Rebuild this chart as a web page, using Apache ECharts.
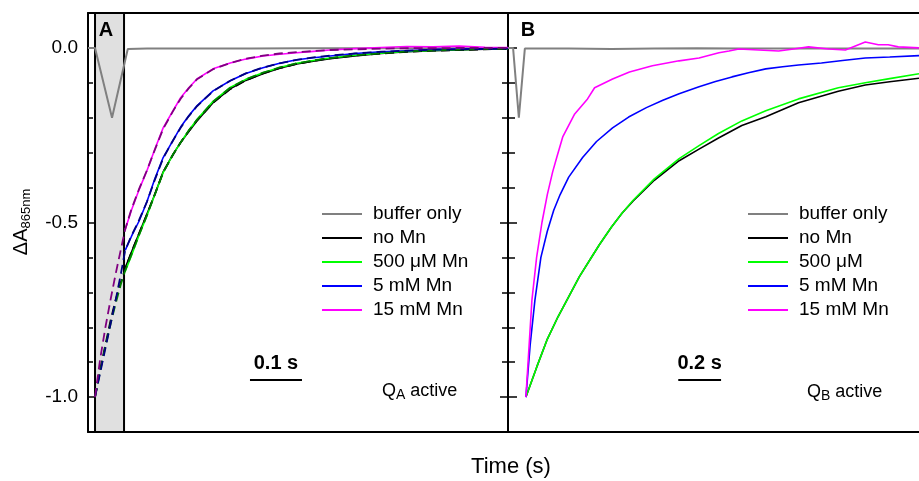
<!DOCTYPE html>
<html><head><meta charset="utf-8">
<script src="https://cdn.jsdelivr.net/npm/echarts@6/dist/echarts.min.js"></script>
<style>html,body{margin:0;padding:0;background:#fff}#c{width:919px;height:481px}</style>
</head><body><div id="c"></div>
<script>
// ---------- DATA ----------
// Panel A (Q_A active), time in s
const tA = [0.058,0.07,0.085,0.1,0.115,0.131,0.15,0.165,0.18,0.196,0.227,0.26,0.29,0.323,0.355,0.388,0.42,0.452,0.5,0.55,0.6,0.65,0.7,0.75,0.794];
const aMagenta = [-0.52,-0.465,-0.405,-0.351,-0.29,-0.229,-0.18,-0.142,-0.115,-0.089,-0.06,-0.043,-0.032,-0.023,-0.018,-0.014,-0.01,-0.006,-0.002,0.001,0.004,0.003,0.005,0.002,0.001];
const aBlue = [-0.58,-0.54,-0.495,-0.44,-0.375,-0.314,-0.265,-0.226,-0.195,-0.166,-0.123,-0.094,-0.073,-0.057,-0.044,-0.034,-0.028,-0.023,-0.016,-0.011,-0.008,-0.005,-0.003,-0.002,-0.001];
const aBlack = [-0.63,-0.585,-0.53,-0.475,-0.42,-0.355,-0.305,-0.27,-0.24,-0.209,-0.157,-0.117,-0.093,-0.074,-0.058,-0.046,-0.038,-0.031,-0.023,-0.016,-0.011,-0.008,-0.006,-0.004,-0.003];
const aGreen = [-0.64,-0.595,-0.535,-0.48,-0.42,-0.357,-0.305,-0.27,-0.237,-0.205,-0.153,-0.113,-0.09,-0.071,-0.056,-0.044,-0.036,-0.029,-0.021,-0.015,-0.01,-0.007,-0.005,-0.003,-0.002];

const tFitA = [0,0.01,0.02,0.03,0.04,0.05,0.058,0.07,0.085,0.1,0.115,0.131,0.15,0.165,0.18,0.196,0.227,0.26,0.29,0.323,0.355,0.388,0.42,0.452,0.5,0.55,0.6,0.65,0.7,0.75,0.794];
const fitMagenta = [-1,-0.89,-0.8,-0.72,-0.645,-0.575,-0.52,-0.462,-0.403,-0.35,-0.292,-0.232,-0.181,-0.145,-0.116,-0.09,-0.061,-0.043,-0.031,-0.022,-0.016,-0.012,-0.009,-0.006,-0.004,-0.002,-0.001,-0.001,0,0,0];
const fitBlue = [-1,-0.93,-0.86,-0.79,-0.72,-0.645,-0.58,-0.538,-0.492,-0.44,-0.378,-0.316,-0.265,-0.228,-0.196,-0.167,-0.124,-0.094,-0.073,-0.056,-0.044,-0.034,-0.027,-0.022,-0.016,-0.011,-0.008,-0.005,-0.004,-0.003,-0.002];
const fitBlack = [-1,-0.92,-0.85,-0.78,-0.72,-0.67,-0.632,-0.585,-0.53,-0.476,-0.419,-0.356,-0.306,-0.27,-0.239,-0.208,-0.157,-0.118,-0.093,-0.073,-0.058,-0.046,-0.037,-0.03,-0.022,-0.016,-0.011,-0.008,-0.006,-0.004,-0.003];
const fitGreen = [-1,-0.925,-0.855,-0.79,-0.73,-0.675,-0.638,-0.592,-0.535,-0.479,-0.42,-0.357,-0.305,-0.27,-0.237,-0.206,-0.154,-0.114,-0.09,-0.071,-0.056,-0.044,-0.036,-0.029,-0.021,-0.015,-0.01,-0.007,-0.005,-0.003,-0.002];

const tBufA = [-0.0135,0,0.0327,0.063,0.1,0.2,0.3,0.4,0.5,0.6,0.7,0.794];
const bufA = [0,0,-0.2,-0.003,-0.002,-0.002,-0.002,-0.001,-0.001,-0.001,-0.001,-0.001];

// Panel B (Q_B active)
const tBufB = [-0.0837,-0.06,-0.033,-0.005,0.2,0.4,0.6,0.8,1.0,1.2,1.4,1.6,1.837];
const bufB = [0,0,-0.2,-0.002,-0.002,-0.003,-0.002,-0.001,-0.002,-0.002,-0.002,-0.002,-0.002];

const tMagB = [0,0.028,0.05,0.075,0.1,0.125,0.144,0.172,0.228,0.288,0.321,0.405,0.484,0.591,0.716,0.809,0.902,0.949,0.995,1.088,1.181,1.251,1.321,1.414,1.493,1.586,1.647,1.693,1.74,1.837];
const bMagenta = [-1,-0.723,-0.6,-0.5,-0.42,-0.355,-0.314,-0.255,-0.189,-0.146,-0.114,-0.089,-0.069,-0.051,-0.037,-0.029,-0.014,-0.009,-0.003,-0.006,-0.009,-0.003,0.003,-0.003,-0.006,0.017,0.009,0.009,0.003,0];

const tBlueB = [0,0.02,0.042,0.07,0.1,0.13,0.16,0.2,0.265,0.33,0.405,0.48,0.563,0.64,0.716,0.809,0.886,0.963,1.04,1.121,1.2,1.274,1.381,1.48,1.586,1.7,1.837];
const bBlue = [-1,-0.85,-0.723,-0.6,-0.525,-0.465,-0.42,-0.37,-0.314,-0.268,-0.229,-0.198,-0.171,-0.15,-0.131,-0.111,-0.096,-0.083,-0.071,-0.06,-0.054,-0.049,-0.043,-0.036,-0.029,-0.026,-0.022];

const tGB = [0,0.05,0.098,0.15,0.191,0.25,0.3,0.344,0.4,0.45,0.5,0.6,0.716,0.809,0.9,1.009,1.121,1.274,1.46,1.586,1.7,1.837];
const bGreen = [-1,-0.915,-0.837,-0.77,-0.723,-0.655,-0.606,-0.563,-0.513,-0.473,-0.437,-0.375,-0.317,-0.28,-0.245,-0.209,-0.18,-0.146,-0.114,-0.1,-0.088,-0.074];
const bBlack = [-1,-0.915,-0.837,-0.77,-0.723,-0.655,-0.606,-0.563,-0.513,-0.473,-0.439,-0.379,-0.323,-0.29,-0.258,-0.222,-0.197,-0.157,-0.124,-0.106,-0.097,-0.087];

const namesA = ['buffer only','no Mn','500 μM Mn','5 mM Mn','15 mM Mn'];
const namesB = ['buffer only','no Mn','500 μM','5 mM Mn','15 mM Mn'];
const yMinorTicks = [-1.1,-1.0,-0.9,-0.8,-0.7,-0.6,-0.5,-0.4,-0.3,-0.2,-0.1,0,0.1];
const yMajorTicks = [-1.0,-0.5,0];
const flashWindowA = [0, 0.0558];
const scaleBarA = {start:0.298, len:0.1, y:-0.949, text:'0.1 s'};
const scaleBarB = {start:0.712, len:0.2, y:-0.949, text:'0.2 s'};

// ---------- CHART ----------
const FONT = 'Liberation Sans, Arial, Helvetica, sans-serif';
const zip = (t, v) => t.map((x, i) => [x, v[i]]);
const chart = echarts.init(document.getElementById('c'), null, {renderer:'canvas'});

function frameX(grid, pos){
  return {type:'value', gridIndex:grid, position:pos, min: grid===0?-0.0135:-0.0837, max: grid===0?0.7942:1.837,
    axisLine:{show:true, onZero:false, lineStyle:{color:'#000', width:2}},
    axisTick:{show:false}, axisLabel:{show:false}, splitLine:{show:false}};
}
function yAx(grid, opts){
  return Object.assign({type:'value', gridIndex:grid, position:'left', min:-1.1, max:0.1,
    axisLine:{show:false, onZero:false, lineStyle:{color:'#000', width:2}},
    axisTick:{show:false}, axisLabel:{show:false}, splitLine:{show:false}}, opts);
}
const tick = (inside, len, vals) => ({show:true, inside:inside, length:len, customValues:vals, lineStyle:{color:'#000', width:1.5}});

function line(name, data, color, xi, yi, opt){
  return Object.assign({type:'line', name:name, data:data, xAxisIndex:xi, yAxisIndex:yi,
    showSymbol:false, symbol:'none', silent:true, z:3, animation:false,
    itemStyle:{color:color}, lineStyle:{color:color, width:1.6}}, opt||{});
}
function fit(data, color){
  return {type:'line', name:'fit', data:data, xAxisIndex:0, yAxisIndex:0, showSymbol:false, symbol:'none',
    silent:true, z:4, animation:false, itemStyle:{color:color}, lineStyle:{color:color, width:1.8, type:[9,5]}};
}
function scaleBar(sb, xi, yi){
  return {type:'line', data:[], xAxisIndex:xi, yAxisIndex:yi, silent:true, z:5,
    markLine:{silent:true, symbol:['none','none'], animation:false,
      lineStyle:{color:'#000', width:2, type:'solid'},
      label:{show:true, position:'middle', formatter:sb.text, color:'#000', fontWeight:'bold', fontSize:20, fontFamily:FONT, distance:6},
      data:[[{coord:[sb.start, sb.y]},{coord:[sb.start+sb.len, sb.y]}]]}};
}
const legendBase = {orient:'vertical', icon:'rect', itemWidth:40, itemHeight:2, itemGap:4, padding:0,
  selectedMode:false, textStyle:{fontSize:19, lineHeight:20, fontFamily:FONT, color:'#000', padding:[0,0,0,6]}};

const option = {
  backgroundColor:'#fff',
  animation:false,
  grid:[
    {left:88, top:13, width:420, height:419},
    {left:508, top:13, width:413, height:419}
  ],
  xAxis:[frameX(0,'bottom'), frameX(0,'top'), frameX(1,'bottom'), frameX(1,'top')],
  yAxis:[
    yAx(0, {axisLine:{show:true, onZero:false, lineStyle:{color:'#000', width:2}},
      axisTick:tick(true,5,yMinorTicks),
      axisLabel:{show:true, customValues:yMajorTicks, margin:10, fontSize:19, fontFamily:FONT, color:'#000',
        formatter:v => (Math.abs(v) < 1e-9 ? '0.0' : v.toFixed(1))}}),
    yAx(0, {axisTick:tick(true,9,yMajorTicks)}),
    yAx(1, {axisLine:{show:true, onZero:false, lineStyle:{color:'#000', width:2}}, axisTick:tick(true,7,yMinorTicks)}),
    yAx(1, {axisTick:tick(false,6,yMinorTicks)}),
    yAx(1, {axisTick:tick(true,9,yMajorTicks)}),
    yAx(1, {axisTick:tick(false,8,yMajorTicks)})
  ],
  legend:[
    Object.assign({left:322, top:204, data:namesA}, legendBase),
    Object.assign({left:748, top:204, data:namesB}, legendBase)
  ],
  graphic:[
    {type:'text', x:21, y:222, rotation:Math.PI/2, silent:true, z:100,
      style:{text:'{a|ΔA}{s|865nm}', align:'center', verticalAlign:'middle', fill:'#000',
        rich:{a:{fontSize:20, fontFamily:FONT, fill:'#000'}, s:{fontSize:13, fontFamily:FONT, fill:'#000', padding:[10,0,0,0]}}}},
    {type:'text', x:106, y:30, silent:true, z:100, style:{text:'A', font:'bold 20px '+FONT, fill:'#000', align:'center', verticalAlign:'middle'}},
    {type:'text', x:528, y:30, silent:true, z:100, style:{text:'B', font:'bold 20px '+FONT, fill:'#000', align:'center', verticalAlign:'middle'}},
    {type:'text', x:382, y:391, silent:true, z:100,
      style:{text:'{n|Q}{s|A}{n| active}', align:'left', verticalAlign:'middle', fill:'#000',
        rich:{n:{fontSize:18, fontFamily:FONT, fill:'#000'}, s:{fontSize:14, fontFamily:FONT, fill:'#000', padding:[8,0,0,0]}}}},
    {type:'text', x:807, y:392, silent:true, z:100,
      style:{text:'{n|Q}{s|B}{n| active}', align:'left', verticalAlign:'middle', fill:'#000',
        rich:{n:{fontSize:18, fontFamily:FONT, fill:'#000'}, s:{fontSize:14, fontFamily:FONT, fill:'#000', padding:[8,0,0,0]}}}},
    {type:'text', x:511, y:467, silent:true, z:100, style:{text:'Time (s)', font:'22px '+FONT, fill:'#000', align:'center', verticalAlign:'middle'}}
  ],
  series:[
    // gray flash window in panel A
    {type:'line', data:[], xAxisIndex:0, yAxisIndex:0, silent:true, z:1,
      markArea:{silent:true, itemStyle:{color:'#e0e0e0', borderColor:'#000', borderWidth:2},
        data:[[{xAxis:flashWindowA[0]},{xAxis:flashWindowA[1]}]]}},
    // Panel A data
    line(namesA[0], zip(tBufA, bufA), '#808080', 0, 0, {lineStyle:{color:'#808080', width:2}}),
    line(namesA[1], zip(tA, aBlack), '#000000', 0, 0),
    line(namesA[2], zip(tA, aGreen), '#00ff00', 0, 0),
    line(namesA[3], zip(tA, aBlue), '#0000ff', 0, 0),
    line(namesA[4], zip(tA, aMagenta), '#ff00ff', 0, 0),
    fit(zip(tFitA, fitBlack), '#000000'),
    fit(zip(tFitA, fitGreen), '#008000'),
    fit(zip(tFitA, fitBlue), '#000080'),
    fit(zip(tFitA, fitMagenta), '#800080'),
    // Panel B data
    line(namesB[0], zip(tBufB, bufB), '#808080', 2, 2, {lineStyle:{color:'#808080', width:2}}),
    line(namesB[1], zip(tGB, bBlack), '#000000', 2, 2),
    line(namesB[2], zip(tGB, bGreen), '#00ff00', 2, 2),
    line(namesB[3], zip(tBlueB, bBlue), '#0000ff', 2, 2),
    line(namesB[4], zip(tMagB, bMagenta), '#ff00ff', 2, 2),
    scaleBar(scaleBarA, 0, 0),
    scaleBar(scaleBarB, 2, 2)
  ]
};
chart.setOption(option);
</script></body></html>
